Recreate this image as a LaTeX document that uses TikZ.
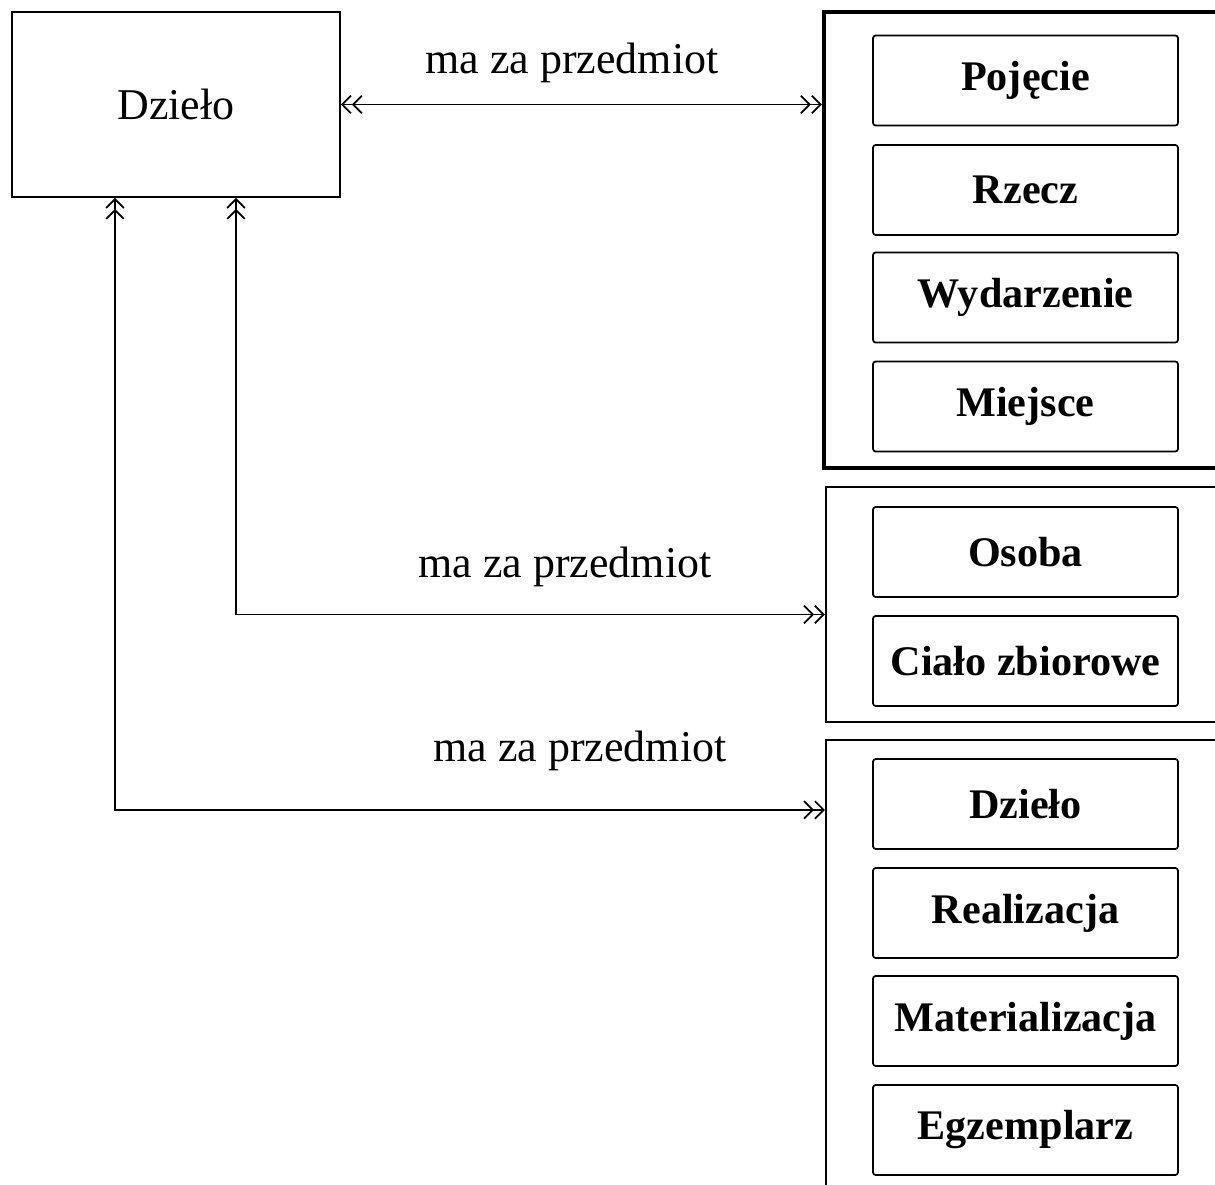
\documentclass[tikz,border=0pt]{standalone}
\usepackage{fontspec}
\setmainfont{Liberation Serif}
\usetikzlibrary{arrows.meta,calc}
\tikzset{
  item/.style={shape=rectangle,draw=black,line width=1pt,rounded corners=1.5pt,minimum width=6.1cm,minimum height=1.8cm,font=\fontsize{24}{28}\selectfont\bfseries},
  group/.style={shape=rectangle,draw=black,line width=1.3pt},
  rel/.style={font=\fontsize{25}{30}\selectfont},
  link/.style={line width=1pt,{Straight Barb[length=5pt,width=10pt]Straight Barb[length=5pt,width=10pt]}-{Straight Barb[length=5pt,width=10pt]Straight Barb[length=5pt,width=10pt]}}
}
\begin{document}
\begin{tikzpicture}[x=0.02cm,y=-0.02cm]
\useasboundingbox (0,0) rectangle (1215,1185);
\clip (0,0) rectangle (1215,1185);
\node[shape=rectangle,draw=black,line width=1.1pt,minimum width=6.56cm,minimum height=3.7cm,font=\fontsize{25}{30}\selectfont] (dzielo) at (176,104.5) {Dzieło};
% grupy
\node[group,line width=2.5pt,minimum width=9.52cm,minimum height=9.12cm] (grp1) at (1062,240) {};
\node[group,minimum width=9.48cm,minimum height=4.7cm] (grp2) at (1063,604.5) {};
\node[group,minimum width=9.48cm,minimum height=11.2cm] (grp3) at (1063,1020) {};
\node[item] (pojecie) at (1025.5,80.5) {Pojęcie};
\node[item] (rzecz) at (1025.5,190) {Rzecz};
\node[item] (wydarzenie) at (1025.5,297.5) {Wydarzenie};
\node[item] (miejsce) at (1025.5,406.5) {Miejsce};
\node[item] (osoba) at (1025.5,552) {Osoba};
\node[item] (cialo) at (1025.5,661) {Ciało zbiorowe};
\node[item] (dzielo2) at (1025.5,804) {Dzieło};
\node[item] (realizacja) at (1025.5,913) {Realizacja};
\node[item] (materializacja) at (1025.5,1021) {Materializacja};
\node[item] (egzemplarz) at (1025.5,1130) {Egzemplarz};
% relacje
\node[rel] (rel1) at (572,63) {ma za przedmiot};
\node[rel] (rel2) at (565,567) {ma za przedmiot};
\node[rel] (rel3) at (580,751) {ma za przedmiot};
\draw[link] (dzielo.east) -- (dzielo.east -| grp1.west);
\draw[link] ($(dzielo.south)+(60,0)$) |- ($(grp2.west)+(0,10)$);
\draw[link] ($(dzielo.south)+(-61,0)$) |- ($(grp3.north west)+(0,71)$);
\end{tikzpicture}
\end{document}
